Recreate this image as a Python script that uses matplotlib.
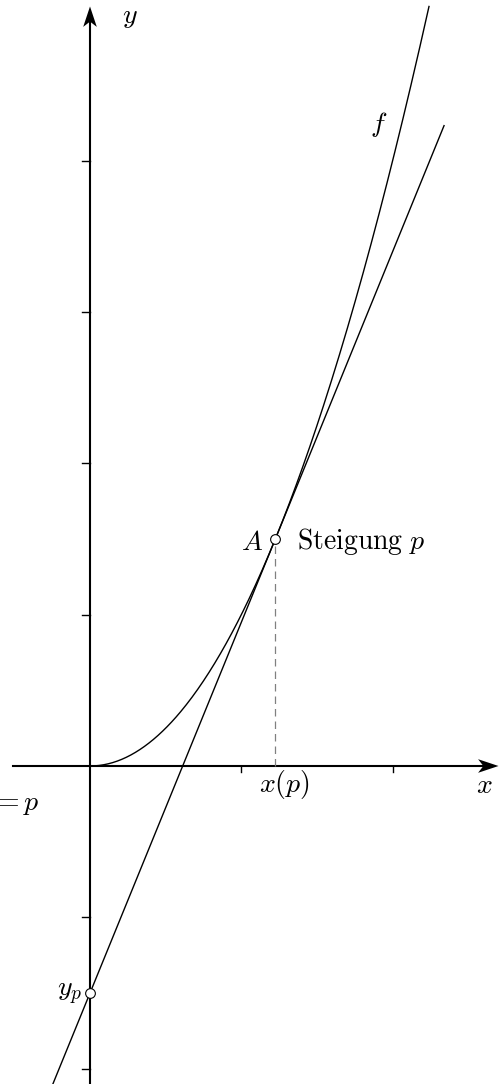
import numpy as np
import matplotlib.pyplot as plt
from matplotlib.patches import Polygon

plt.rcParams['mathtext.fontset'] = 'cm'

# parabola f(x) = x^2 and tangent with slope p at A
x_a = 1.225
p = 2 * x_a
y_a = x_a ** 2
y_p = y_a - p * x_a

x_ticks = [1, 2]
y_ticks = [-2, -1, 1, 2, 3, 4]

x_curve = np.linspace(0, np.sqrt(5.02), 300)
x_tan = np.array([-0.3, 2.34])

fig = plt.figure(figsize=(5.01, 10.84), dpi=100)
ax = fig.add_axes([0, 0, 1, 1])
ax.set_xlim(-90 / 151.3, 411 / 151.3)
ax.set_ylim(-318 / 151.3, 766 / 151.3)
ax.axis('off')

# axes
ax.plot([-0.51, 2.66], [0, 0], color='black', lw=1.5)
ax.plot([0, 0], [-2.2, 4.98], color='black', lw=1.5)

# stealth arrow heads (length, half width, notch)
L, W, N = 0.135, 0.045, 0.035
tip_x = 2.7
ax.add_patch(Polygon([(tip_x, 0), (tip_x - L, W), (tip_x - L + N, 0), (tip_x - L, -W)],
                     closed=True, color='black', lw=0))
tip_y = 5.02
ax.add_patch(Polygon([(0, tip_y), (W, tip_y - L), (0, tip_y - L + N), (-W, tip_y - L)],
                     closed=True, color='black', lw=0))

for t in x_ticks:
    ax.plot([t, t], [0, -0.04], color='black', lw=1)
for t in y_ticks:
    ax.plot([-0.053, 0], [t, t], color='black', lw=1)

ax.plot(x_curve, x_curve ** 2, color='black', lw=1)
ax.plot(x_tan, p * x_tan + y_p, color='black', lw=1)
ax.plot([x_a, x_a], [0, y_a], color='gray', lw=0.9, dashes=(6, 4))

ax.plot([x_a, 0], [y_a, y_p], 'o', ms=7, mfc='white', mec='black', mew=0.8)

fs = 20
ax.text(0.21, 4.96, '$y$', fontsize=fs, ha='left', va='center')
ax.text(2.604, -0.125, '$x$', fontsize=fs, ha='center', va='center')
ax.text(x_a + 0.06, -0.125, '$x(p)$', fontsize=fs, ha='center', va='center')
ax.text(1.91, 4.24, '$f$', fontsize=fs, ha='center', va='center')
ax.text(x_a - 0.08, y_a - 0.02, '$A$', fontsize=fs, ha='right', va='center')
ax.text(x_a + 0.14, y_a - 0.02, r'$\mathrm{Steigung}\ p$', fontsize=fs,
        ha='left', va='center')
ax.text(-0.05, y_p, '$y_p$', fontsize=fs, ha='right', va='center')
ax.text(-50 / 151.3, -0.24, "$f'(x) = p$", fontsize=fs, ha='right', va='center')

fig.savefig('out.png', dpi=100)
